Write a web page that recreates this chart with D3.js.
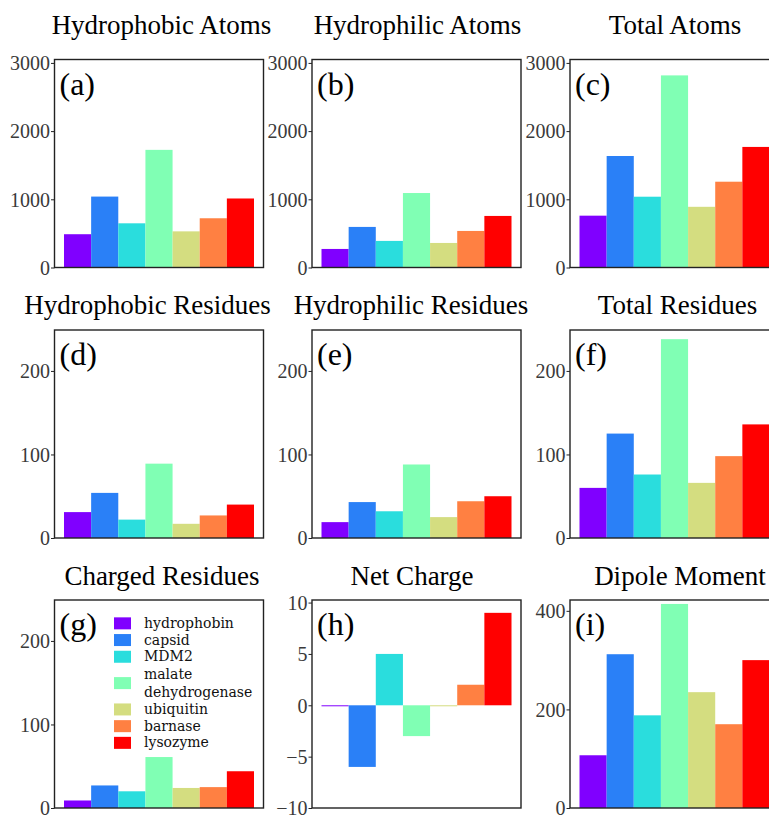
<!DOCTYPE html>
<html>
<head>
<meta charset="utf-8">
<script src="https://cdn.jsdelivr.net/npm/d3@7"></script>
<style>
  html, body { margin: 0; padding: 0; background: #fff; }
  svg { display: block; }
  .tick text { font-family: 'Liberation Serif', 'Times New Roman', serif; }
  .legend text { font-family: 'DejaVu Serif', 'Liberation Serif', serif; }
</style>
</head>
<body>
<svg id="chart" width="769" height="815"></svg>
<script>
// Proteins (one bar per protein in every panel)
const proteins = ["hydrophobin", "capsid", "MDM2", "malate dehydrogenase", "ubiquitin", "barnase", "lysozyme"];
const legendLines = [["hydrophobin"], ["capsid"], ["MDM2"], ["malate", "dehydrogenase"], ["ubiquitin"], ["barnase"], ["lysozyme"]];
const colors = ["#8000ff", "#2a80f7", "#2adddd", "#80ffb4", "#d4dd80", "#ff8042", "#ff0000"];

// Panel values
const hydrophobicAtoms = [488, 1040, 648, 1725, 530, 722, 1012];
const hydrophilicAtoms = [272, 595, 390, 1092, 360, 536, 756];
const totalAtoms = [760, 1635, 1038, 2817, 890, 1258, 1768];
const hydrophobicResidues = [31, 54, 22, 89, 17, 27, 40];
const hydrophilicResidues = [19, 43, 32, 88, 25, 44, 50];
const totalResidues = [60, 125, 76, 238, 66, 98, 136];
const chargedResidues = [9, 27, 20, 61, 24, 25, 44];
const netCharge = [0, -6, 5, -3, 0, 2, 9];
const dipoleMoment = [107, 312, 188, 414, 235, 170, 300];

// Tick labels per axis group
const atomTicks = [0, 1000, 2000, 3000];
const residueTicks = [0, 100, 200];
const chargeTicks = [-10, -5, 0, 5, 10];
const dipoleTicks = [0, 200, 400];

const titles = ["Hydrophobic Atoms", "Hydrophilic Atoms", "Total Atoms",
                "Hydrophobic Residues", "Hydrophilic Residues", "Total Residues",
                "Charged Residues", "Net Charge", "Dipole Moment"];
const tags = ["(a)", "(b)", "(c)", "(d)", "(e)", "(f)", "(g)", "(h)", "(i)"];

const panels = [
  { values: hydrophobicAtoms, domain: [0, 3050], ticks: atomTicks },
  { values: hydrophilicAtoms, domain: [0, 3050], ticks: atomTicks },
  { values: totalAtoms, domain: [0, 3050], ticks: atomTicks },
  { values: hydrophobicResidues, domain: [0, 249], ticks: residueTicks },
  { values: hydrophilicResidues, domain: [0, 249], ticks: residueTicks },
  { values: totalResidues, domain: [0, 249], ticks: residueTicks },
  { values: chargedResidues, domain: [0, 249], ticks: residueTicks, legend: true },
  { values: netCharge, domain: [-10, 10.25], ticks: chargeTicks },
  { values: dipoleMoment, domain: [0, 422], ticks: dipoleTicks }
];

// Grid geometry
const colLeft = [54.5, 312, 570];
const rowTop = [59.5, 330, 600];
const pw = 209, ph = 208;
const titleBaseline = [34, 314, 585];
const titleCenter = [161.5, 417.5, 675, 147.5, 411, 677.5, 162, 412, 680];

const serif = "'Liberation Serif', 'Times New Roman', serif";
const svg = d3.select("#chart");

const x = d3.scaleLinear().domain([-0.35, proteins.length + 0.35]);

panels.forEach((p, k) => {
  const col = k % 3, row = Math.floor(k / 3);
  const left = colLeft[col], top = rowTop[row];
  const g = svg.append("g").attr("transform", `translate(${left},${top})`);
  const xs = x.copy().range([0, pw]);
  const y = d3.scaleLinear().domain(p.domain).range([ph, 0]);

  // bars
  g.selectAll("rect.bar").data(p.values).join("rect")
    .attr("class", "bar")
    .attr("x", (d, i) => xs(i))
    .attr("width", (d, i) => xs(i + 1) - xs(i))
    .attr("y", d => Math.min(y(d), y(0)))
    .attr("height", d => Math.max(1, Math.abs(y(d) - y(0))))
    .attr("fill", (d, i) => colors[i]);

  // frame
  g.append("rect").attr("x", 0).attr("y", 0).attr("width", pw).attr("height", ph)
    .attr("fill", "none").attr("stroke", "#222").attr("stroke-width", 1.4);

  // y axis
  const axis = d3.axisLeft(y).tickValues(p.ticks).tickSize(3.5).tickPadding(1)
    .tickFormat(d => d < 0 ? "\u2212" + Math.abs(d) : String(d));
  const ag = g.append("g").call(axis)
    .attr("font-family", serif).attr("font-size", 20);
  ag.select(".domain").remove();
  ag.selectAll(".tick line").attr("stroke", "#222");
  ag.selectAll(".tick text").style("font-family", serif).style("font-size", "20px")
    .attr("fill", "#3a3a3a").attr("dy", "0.34em");

  // panel tag
  g.append("text").attr("x", 5).attr("y", 35).attr("font-family", serif)
    .attr("font-size", 32).attr("fill", "#000").text(tags[k]);

  // title
  svg.append("text").attr("x", titleCenter[k]).attr("y", titleBaseline[row])
    .attr("text-anchor", "middle").attr("font-family", serif).attr("font-size", 27)
    .attr("fill", "#000").text(titles[k]);

  if (p.legend) {
    const lg = g.append("g").attr("class", "legend").attr("transform", "translate(59.5,15)");
    let yy = 0;
    legendLines.forEach((lines, i) => {
      const n = lines.length;
      const lineH = 18, rowH = 16.7;
      const h = n === 1 ? rowH : lineH * n;
      const cy = yy + (n === 1 ? rowH / 2 : h / 2);
      lg.append("rect").attr("x", 0).attr("y", cy - 6).attr("width", 17).attr("height", 12)
        .attr("fill", colors[i]);
      lines.forEach((t, j) => {
        lg.append("text").attr("x", 30)
          .attr("y", cy + (j - (n - 1) / 2) * lineH)
          .attr("dy", "0.32em")
          .style("font-family", "'DejaVu Serif', 'Liberation Serif', serif")
          .attr("font-size", 14).attr("fill", "#111").text(t);
      });
      yy += n === 1 ? rowH : h;
    });
  }
});
</script>
</body>
</html>
